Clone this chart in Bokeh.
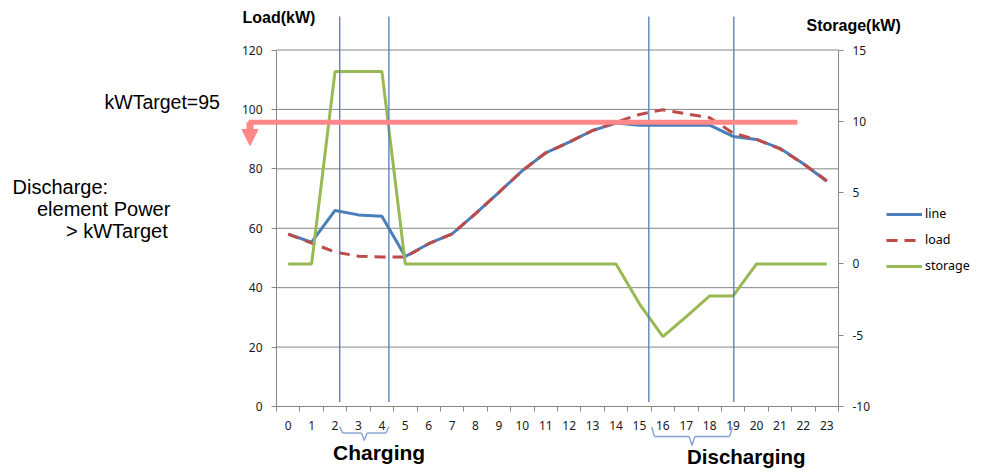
from bokeh.plotting import figure
from bokeh.models import (Range1d, LinearAxis, FixedTicker, Legend, LegendItem,
                          Arrow, NormalHead, Label, ColumnDataSource)
from bokeh.embed import file_html
from bokeh.resources import INLINE

# ---------------- data ----------------
hours = list(range(24))
line_kw = [58.0, 55.3, 66.0, 64.5, 64.0, 50.5, 54.8, 58.1, 64.9, 72.1, 79.4, 85.4,
           89.0, 92.9, 95.4, 94.7, 94.7, 94.7, 94.7, 90.9, 89.9, 86.9, 81.7, 75.8]
load_kw = [58.0, 55.0, 52.0, 50.6, 50.3, 50.3, 54.8, 58.1, 64.9, 72.1, 79.4, 85.4,
           89.0, 92.9, 95.7, 98.3, 99.9, 98.5, 97.2, 92.0, 89.9, 86.7, 81.7, 76.0]
storage_kw = [0, 0, 13.5, 13.5, 13.5, 0, 0, 0, 0, 0, 0, 0,
              0, 0, 0, -2.8, -5.1, -3.7, -2.25, -2.25, 0, 0, 0, 0]
kw_target = 95.7
charge_window = [2.2, 4.3]
discharge_window = [15.4, 19.03]
load_ticks = [0, 20, 40, 60, 80, 100, 120]
storage_ticks = [-10, -5, 0, 5, 10, 15]
series_names = ["line", "load", "storage"]

# ---------------- layout (pixel geometry of the chart area) ----------------
W, H = 985, 476
AX_L, AX_R, AX_B, AX_T = 276.0, 838.0, 406.0, 49.5
PXU = (AX_R - AX_L) / len(hours)
PYU = (AX_B - AX_T) / (load_ticks[-1] - load_ticks[0])
SPYU = (AX_B - AX_T) / (storage_ticks[-1] - storage_ticks[0])
GRAY = "#868686"
PINK = "#FF8888"
VBLUE = "#4A7EBB"


def dx(px):
    return hours[0] - 0.5 + (px - AX_L) / PXU


def dy(py):
    return load_ticks[0] + (AX_B - py) / PYU


def sy(py):
    return storage_ticks[0] + (AX_B - py) / SPYU


X_LO, X_HI = hours[0] - 0.5, hours[-1] + 0.5

p = figure(width=W, height=H, title=None,
           x_range=Range1d(dx(0), dx(W)), y_range=Range1d(dy(H), dy(0)),
           output_backend="svg", toolbar_location=None,
           x_axis_location=None, y_axis_location=None,
           min_border_left=0, min_border_right=0,
           min_border_top=0, min_border_bottom=0)
p.extra_y_ranges = {"storage": Range1d(sy(H), sy(0))}
p.outline_line_color = None
p.background_fill_color = "white"
p.border_fill_color = "white"
p.xgrid.visible = False
p.ygrid.visible = False

# horizontal grid lines between the two axes
p.segment(x0=[X_LO] * len(load_ticks), y0=load_ticks, x1=[X_HI] * len(load_ticks),
          y1=load_ticks, line_color=GRAY, line_width=1)

TICK_FONT = "Noto Sans"


def style_axis(ax):
    ax.axis_line_color = GRAY
    ax.major_tick_line_color = GRAY
    ax.major_tick_out = 5
    ax.major_tick_in = 0
    ax.minor_tick_line_color = None
    ax.major_label_standoff = 9
    ax.major_label_text_font = TICK_FONT
    ax.major_label_text_font_size = "12px"
    ax.major_label_text_color = "#1a1a1a"


# left axis
ya = LinearAxis(ticker=FixedTicker(ticks=load_ticks), bounds=(load_ticks[0], load_ticks[-1]),
                fixed_location=X_LO)
style_axis(ya)
p.add_layout(ya, "left")

# right axis
ra = LinearAxis(y_range_name="storage", ticker=FixedTicker(ticks=storage_ticks),
                bounds=(storage_ticks[0], storage_ticks[-1]), fixed_location=X_HI,
                major_label_overrides={t: str(t) for t in storage_ticks})
style_axis(ra)
p.add_layout(ra, "right")

# x axis
xa = LinearAxis(ticker=FixedTicker(ticks=hours, minor_ticks=[h - 0.5 for h in hours] + [X_HI]),
                bounds=(X_LO, X_HI), fixed_location=load_ticks[0])
style_axis(xa)
xa.major_tick_line_color = None
xa.minor_tick_line_color = GRAY
xa.minor_tick_out = 5
xa.minor_tick_in = 0
p.add_layout(xa, "below")

# series
r_line = p.line(hours, line_kw, line_color="#4A7EBB", line_width=3)
r_load = p.line(hours, load_kw, line_color="#BE4B48", line_width=3, line_dash="11 7")
r_stor = p.line(hours, storage_kw, line_color="#98B954", line_width=3,
                y_range_name="storage")

# vertical window lines
bounds = charge_window + discharge_window
p.segment(x0=bounds, y0=[dy(401.5)] * len(bounds), x1=bounds, y1=[dy(16)] * len(bounds),
          line_color=VBLUE, line_width=1.3)

# target line and arrow
p.add_layout(Arrow(x_start=dx(248), y_start=kw_target, x_end=dx(797), y_end=kw_target,
                   start=None, end=None, line_color=PINK, line_width=5))
arr_x = dx(249.5)
p.add_layout(Arrow(x_start=arr_x, y_start=kw_target, x_end=arr_x, y_end=dy(145),
                   start=None,
                   end=NormalHead(size=16, fill_color=PINK, line_color=PINK, line_width=1),
                   line_color=PINK, line_width=7))


# braces under the axis
def brace(xa_, xb_, yt, yb, yp, c=0.12):
    xm = (xa_ + xb_) / 2
    return [(xa_, yt, xa_ + c, yb), (xa_ + c, yb, xm - c, yb), (xm - c, yb, xm, yp),
            (xm, yp, xm + c, yb), (xm + c, yb, xb_ - c, yb), (xb_ - c, yb, xb_, yt)]


segs = brace(charge_window[0], charge_window[1], dy(426), dy(432.5), dy(440)) + \
    brace(discharge_window[0] + 0.12, discharge_window[1] - 0.06, dy(426.5), dy(436), dy(445))
bsrc = ColumnDataSource(dict(x0=[s[0] for s in segs], y0=[s[1] for s in segs],
                             x1=[s[2] for s in segs], y1=[s[3] for s in segs]))
p.add_layout(Arrow(source=bsrc, x_start="x0", y_start="y0", x_end="x1", y_end="y1",
                   start=None, end=None, line_color="#86A2D2", line_width=1.4))


# texts
def add_text(txt, px, py, size, bold=False):
    p.add_layout(Label(x=dx(px), y=dy(py), text=txt, text_font="Liberation Sans",
                       text_font_size=size, text_font_style="bold" if bold else "normal",
                       text_color="black", text_align="left", text_baseline="alphabetic"))


add_text("Load(kW)", 242, 16.5, "16px", bold=True)
add_text("Storage(kW)", 806, 25, "16px", bold=True)
add_text("kWTarget=95", 104, 101, "19.5px")
add_text("Discharge:", 12, 186, "20px")
add_text("element Power", 36.5, 208.5, "20px")
add_text("> kWTarget", 65.5, 230.5, "20px")
add_text("Charging", 332.5, 451.5, "21px", bold=True)
add_text("Discharging", 686.5, 456, "20.5px", bold=True)

# legend
legend = Legend(items=[LegendItem(label=series_names[0], renderers=[r_line]),
                       LegendItem(label=series_names[1], renderers=[r_load]),
                       LegendItem(label=series_names[2], renderers=[r_stor])],
                location=(886, H - 275.5), orientation="vertical",
                glyph_width=36, glyph_height=20, spacing=6, padding=0, margin=0,
                label_standoff=3, label_text_font="Noto Sans",
                label_text_font_size="12.5px", label_text_color="black",
                border_line_color=None, background_fill_alpha=0)
p.add_layout(legend, "center")

open("out.html", "w").write(file_html(p, INLINE))
